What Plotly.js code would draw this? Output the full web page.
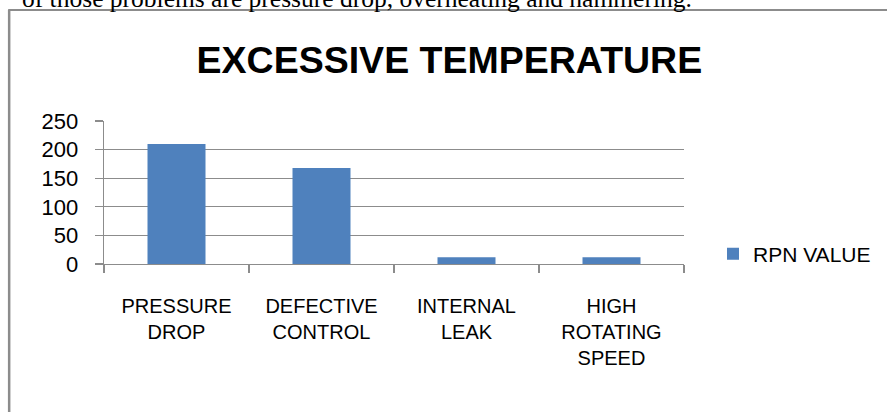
<!DOCTYPE html>
<html>
<head>
<meta charset="utf-8">
<script src="https://cdn.plot.ly/plotly-3.0.1.min.js"></script>
<style>
  html, body { margin: 0; padding: 0; background: #ffffff; }
  #chart { width: 887px; height: 412px; }
</style>
</head>
<body>
<div id="chart"></div>
<script>
// ---- data ----
const categories = ["PRESSURE<br>DROP", "DEFECTIVE<br>CONTROL", "INTERNAL<br>LEAK", "HIGH<br>ROTATING<br>SPEED"];
const rpnValues = [210, 168, 12, 12];
const seriesName = "RPN VALUE";
const yTickValues = [0, 50, 100, 150, 200, 250];
const chartTitle = "EXCESSIVE TEMPERATURE";
const headerText = "of those problems are pressure drop, overheating and hammering.";

// ---- pixel helpers (layout only) ----
const L = 104, R = 202, T = 121, B = 148;
const W = 887, H = 412;
const pw = W - L - R, ph = H - T - B;
const px = X => (X - L) / pw;
const py = Y => (H - B - Y) / ph;

const frameColor = "#8c8c8c";
const gridColor = "#8c8c8c";

const trace = {
  type: "bar",
  x: categories,
  y: rpnValues,
  name: seriesName,
  marker: { color: "#4f81bd" },
  showlegend: true,
  hoverinfo: "x+y"
};

const layout = {
  width: W, height: H,
  margin: { l: L, r: R, t: T, b: B, pad: 0 },
  paper_bgcolor: "#ffffff",
  plot_bgcolor: "#ffffff",
  bargap: 0.6,
  font: { family: "Liberation Sans, Arial, sans-serif", color: "#000000" },
  title: {
    text: chartTitle,
    font: { family: "Liberation Sans, Arial, sans-serif", size: 37.5, color: "#000000", weight: "bold" },
    xref: "paper", x: px(450), xanchor: "center",
    yref: "container", y: 1 - 60 / H, yanchor: "middle"
  },
  xaxis: {
    type: "category",
    showgrid: false,
    showline: true, linecolor: gridColor, linewidth: 1.3,
    ticks: "outside", ticklen: 8, tickcolor: gridColor, tickwidth: 1.3,
    tickson: "boundaries",
    ticklabelstandoff: 24,
    tickfont: { family: "Liberation Sans, Arial, sans-serif", size: 20, color: "#000000" },
    zeroline: false,
    fixedrange: true
  },
  yaxis: {
    range: [0, 250],
    tickvals: yTickValues,
    ticktext: yTickValues.map(String),
    showgrid: true, gridcolor: gridColor, gridwidth: 1.3,
    showline: true, linecolor: gridColor, linewidth: 1.3,
    ticks: "outside", ticklen: 8, tickcolor: gridColor, tickwidth: 1.3,
    ticklabelstandoff: 12,
    tickfont: { family: "Liberation Sans, Arial, sans-serif", size: 22, color: "#000000" },
    zeroline: false,
    fixedrange: true
  },
  legend: {
    x: px(713), xanchor: "left",
    y: py(254), yanchor: "middle",
    bgcolor: "rgba(0,0,0,0)",
    borderwidth: 0,
    font: { family: "Liberation Sans, Arial, sans-serif", size: 21, color: "#000000" },
    itemwidth: 30
  },
  shapes: [
    { type: "line", xref: "paper", yref: "paper", x0: px(9), x1: px(9), y0: py(10), y1: py(420),
      line: { color: frameColor, width: 2.5 } },
    { type: "line", xref: "paper", yref: "paper", x0: px(8), x1: px(900), y0: py(10), y1: py(10),
      line: { color: frameColor, width: 2 } }
  ],
  annotations: [
    { text: headerText, xref: "paper", yref: "paper", x: px(695), xanchor: "right",
      y: py(15), yanchor: "bottom", showarrow: false,
      font: { family: "Liberation Serif, Times New Roman, serif", size: 25.5, color: "#000000" } }
  ]
};

Plotly.newPlot("chart", [trace], layout, { displayModeBar: false, staticPlot: true });
</script>
</body>
</html>
